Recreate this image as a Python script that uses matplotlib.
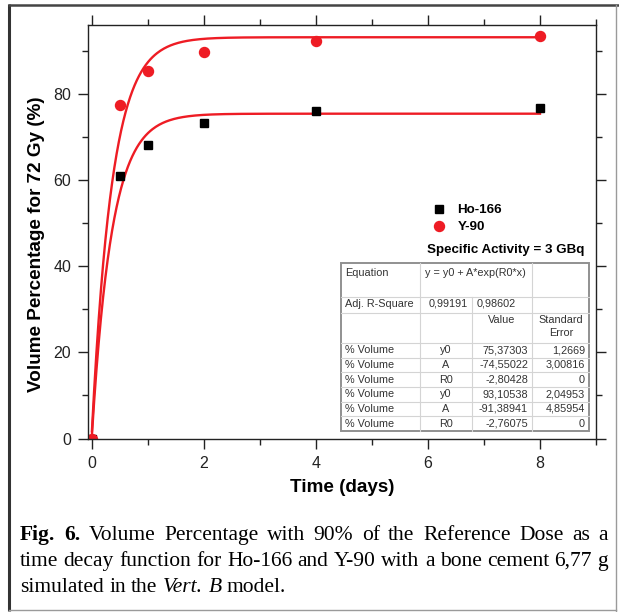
import numpy as np
import matplotlib.pyplot as plt

plt.rcParams['font.family'] = ['Liberation Sans', 'DejaVu Sans']

# measured points
days = [0, 0.5, 1, 2, 4, 8]
ho166 = [0, 61.0, 68.2, 73.3, 75.9, 76.6]
y90 = [0, 77.5, 85.2, 89.8, 92.2, 93.5]

# fit parameters y = y0 + A*exp(R0*x)
ho_fit = [75.37303, -74.55022, -2.80428]
y90_fit = [93.10538, -91.38941, -2.76075]

# fit table
adj_r2 = ['0,99191', '0,98602']
row_names = ['% Volume'] * 6
param_names = ['y0', 'A', 'R0', 'y0', 'A', 'R0']
param_values = ['75,37303', '-74,55022', '-2,80428', '93,10538', '-91,38941', '-2,76075']
param_errors = ['1,2669', '3,00816', '0', '2,04953', '4,85954', '0']

caption = [
    [('Fig.', 'bold', 'normal'), ('6.', 'bold', 'normal')]
    + [(w, 'normal', 'normal') for w in 'Volume Percentage with 90% of the Reference Dose as a'.split()],
    [(w, 'normal', 'normal') for w in 'time decay function for Ho-166 and Y-90 with a bone cement 6,77 g'.split()],
    [(w, 'normal', 'normal') for w in 'simulated in the'.split()]
    + [('Vert.', 'normal', 'italic'), ('B', 'normal', 'italic'), ('model.', 'normal', 'normal')],
]

W, H = 619, 612
fig = plt.figure(figsize=(W / 100, H / 100), dpi=100)
ax = fig.add_axes([88 / W, 1 - 439 / H, (596 - 88) / W, (439 - 25) / H])

red = '#ee1c24'
def fit(p, x):
    return p[0] + p[1] * np.exp(p[2] * x)

xs = np.linspace(0, 8, 400)
ax.plot(xs, fit(ho_fit, xs), color=red, lw=1.7)
ax.plot(xs, fit(y90_fit, xs), color=red, lw=1.7)
ax.plot(days, ho166, 's', color='black', ms=6.3, label='Ho-166')
ax.plot(days, y90, 'o', color=red, ms=7.2, label='Y-90')

ax.set_xlim(-0.07, 9.0)
ax.set_ylim(-0.1, 95.95)
ax.set_xticks([0, 2, 4, 6, 8])
ax.set_xticks([1, 3, 5, 7, 9], minor=True)
ax.set_yticks([0, 20, 40, 60, 80])
ax.set_yticks([10, 30, 50, 70, 90], minor=True)
ax.tick_params(which='both', direction='out', top=True, right=True, width=1, colors='#222222')
ax.tick_params(which='major', length=7, labelsize=11.5, pad=5)
ax.tick_params(which='minor', length=4)
for s in ax.spines.values():
    s.set_linewidth(1)
    s.set_color('#222222')

ax.legend(loc='upper left', bbox_to_anchor=(432 / W, 1 - 204 / H), bbox_transform=fig.transFigure,
          frameon=False, prop={'weight': 'bold', 'size': 9.6}, handlelength=1.0,
          handletextpad=0.9, labelspacing=0.35, borderpad=0, borderaxespad=0)

# overlay in pixel coords
ov = fig.add_axes([0, 0, 1, 1], zorder=5)
ov.set_xlim(0, W)
ov.set_ylim(H, 0)
ov.axis('off')

ov.text(342, 492, 'Time (days)', fontsize=13.6, fontweight='bold', ha='center', va='baseline')
ov.text(37, 244, 'Volume Percentage for 72 Gy (%)', fontsize=13.6, fontweight='bold',
        rotation=90, ha='center', va='center')
ov.text(506, 253, 'Specific Activity = 3 GBq', fontsize=9.6, fontweight='bold', ha='center', va='baseline')

# outer frame
ov.plot([9, 9], [4, 611], color='#333333', lw=2.2, solid_capstyle='butt')
ov.plot([8, 619], [5, 5], color='#444444', lw=1.8, solid_capstyle='butt')
ov.plot([616, 616], [5, 611], color='#9a9a9a', lw=1.0)
ov.plot([9, 616], [610, 610], color='#9a9a9a', lw=1.0)

# fit table
tl, tr, tt, tb = 341, 589, 263, 431
cols = [341, 420, 472, 532, 589]
ov.add_patch(plt.Rectangle((tl, tt), tr - tl, tb - tt, facecolor='white', edgecolor='#909090', lw=1.4, zorder=2))
row_lines = [297, 313, 343] + [343 + 14.67 * i for i in range(1, 6)]
for y in row_lines:
    ov.plot([tl, tr], [y, y], color='#d4d4d4', lw=0.8, zorder=3)
ov.plot([cols[1], cols[1]], [tt, tb], color='#d4d4d4', lw=0.8, zorder=3)
ov.plot([cols[2], cols[2]], [297, tb], color='#d4d4d4', lw=0.8, zorder=3)
ov.plot([cols[3], cols[3]], [tt, tb], color='#d4d4d4', lw=0.8, zorder=3)

tkw = dict(fontsize=7.8, color='#333333', va='center', zorder=4)
ov.text(345, 273, 'Equation', ha='left', **tkw)
ov.text(425, 273, 'y = y0 + A*exp(R0*x)', ha='left', **tkw)
ov.text(345, 304, 'Adj. R-Square', ha='left', **tkw)
ov.text(429, 304, adj_r2[0], ha='left', **tkw)
ov.text(477, 304, adj_r2[1], ha='left', **tkw)
ov.text(502, 320, 'Value', ha='center', **tkw)
ov.text(561, 320, 'Standard', ha='center', **tkw)
ov.text(561, 333, 'Error', ha='center', **tkw)
for i in range(6):
    yc = 350.3 + 14.67 * i
    ov.text(345, yc, row_names[i], ha='left', **tkw)
    ov.text(446, yc, param_names[i], ha='center', **tkw)
    ov.text(528, yc, param_values[i], ha='right', **tkw)
    ov.text(585, yc, param_errors[i], ha='right', **tkw)

# caption, first two lines justified
r = fig.canvas.get_renderer()
def caption_line(tokens, y, x0, x1=None):
    arts = [ov.text(0, y, w, fontsize=15.5, family='Liberation Serif', weight=wt, style=st, va='baseline')
            for w, wt, st in tokens]
    widths = [a.get_window_extent(r).width for a in arts]
    gap = 5.4 if x1 is None else (x1 - x0 - sum(widths)) / (len(arts) - 1)
    x = x0
    for a, w in zip(arts, widths):
        a.set_x(x)
        x += w + gap

caption_line(caption[0], 540, 20, 608)
caption_line(caption[1], 566, 20, 608)
caption_line(caption[2], 592, 20)

fig.savefig('out.png', dpi=100)
